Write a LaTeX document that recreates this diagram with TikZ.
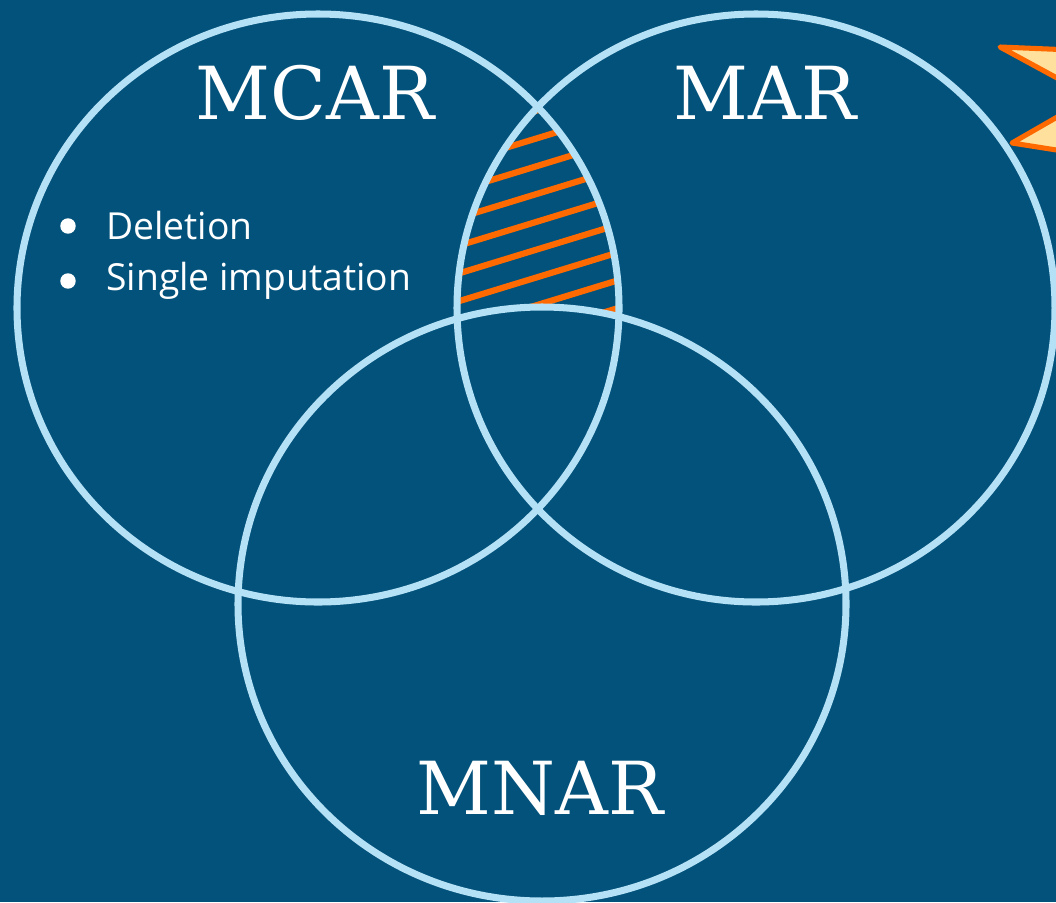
\documentclass[tikz,border=0pt]{standalone}
\usepackage{fontspec}
\setmainfont{DejaVu Serif}
\newfontfamily\listfont{Open Sans}
\definecolor{bgblue}{HTML}{03527B}
\definecolor{ringblue}{HTML}{B4E1F6}
\definecolor{hatchorange}{HTML}{FF6A00}
\definecolor{burstyellow}{HTML}{FFE09C}
\tikzset{
	ring/.style={draw=ringblue,line width=5pt},
	title/.style={text=white,font=\fontsize{52}{60}\selectfont,inner sep=0pt},
	item/.style={text=white,font=\listfont\fontsize{26.5}{30}\selectfont,anchor=west,inner sep=0pt},
	dot/.style={circle,fill=white,inner sep=0,outer sep=0,minimum size=11pt},
	hatch/.style={draw=hatchorange,line width=4.4pt}
}
\begin{document}
\begin{tikzpicture}[x=0.025cm,y=-0.025cm]
	\useasboundingbox (0,0) rectangle (1056,902);
	\clip (0,0) rectangle (1056,902);
	\fill[bgblue] (0,0) rectangle (1056,902);
	\coordinate (mcar) at (318,308);
	\coordinate (mar) at (756,308);
	\coordinate (mnar) at (542,604);
	% burst at the right edge
	\draw[hatchorange,fill=burstyellow,line width=3.6pt,line join=round]
		(1120,52) -- (1000,47) -- (1092,97) -- (1012,143) -- (1120,160) -- cycle;
	% hatched part of the lens
	\begin{scope}
		\clip (mcar) ellipse (301 and 294);
		\clip (mar) ellipse (299 and 294);
		\foreach \k in {-2,...,10}
			\draw[hatch] (400,{119+27.8*\k+0.306*200}) -- (700,{119+27.8*\k-0.306*100});
	\end{scope}
	\fill[bgblue] (mnar) ellipse (304 and 297);
	\draw[ring] (mcar) ellipse (301 and 294);
	\draw[ring] (mar) ellipse (299 and 294);
	\draw[ring] (mnar) ellipse (304 and 297);
	\node[title] (mcartitle) at (315,93) {MCAR};
	\node[title] (martitle) at (765,93) {MAR};
	\node[title] (mnartitle) at (540,788) {MNAR};
	\node[dot] (dot1) at (68,226) {};
	\node[dot] (dot2) at (68,281) {};
	\node[item] (item1) at (106,226) {Deletion};
	\node[item] (item2) at (106,281) {Single imputation};
\end{tikzpicture}
\end{document}
